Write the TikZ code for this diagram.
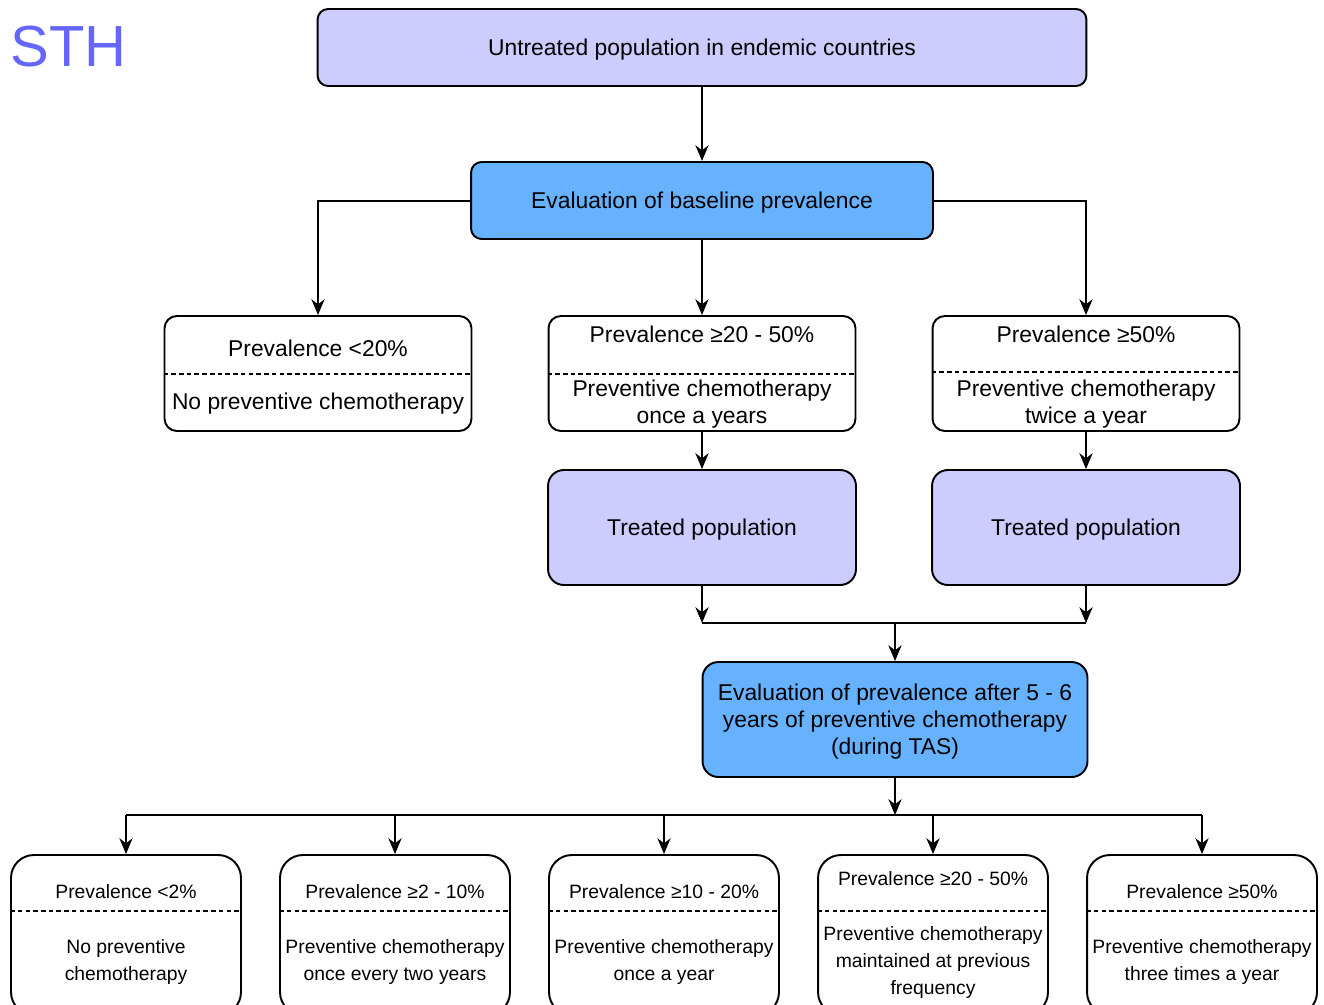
\documentclass[tikz,border=0pt]{standalone}
\usepackage{fontspec}
\setmainfont{Liberation Sans}
\usetikzlibrary{arrows.meta}
\definecolor{lilac}{HTML}{CCCCFF}
\definecolor{skyblue}{HTML}{66B2FF}
\definecolor{sthblue}{HTML}{6666FF}

\begin{document}
\begin{tikzpicture}[x=0.02cm,y=-0.02cm,
	box/.style={draw,line width=1.1pt,rounded corners=7pt,inner sep=0pt,align=center,text depth=0pt,font=\fontsize{13}{15.4}\selectfont},
	txt/.style={align=center,font=\fontsize{13}{15.4}\selectfont,inner sep=1pt},
	small/.style={align=center,font=\fontsize{11}{15.4}\selectfont,inner sep=1pt},
	arr/.style={line width=1.1pt,-{Stealth[length=9pt,width=7.5pt]}},
	wire/.style={line width=1.1pt},
	split/.style={dash pattern=on 2.6pt off 1.8pt,line width=0.95pt}]

	\clip (0,0) rectangle (1324,1004);

	\node[text=sthblue,font=\fontsize{33}{36}\selectfont,anchor=west,inner sep=0pt] (sth) at (10,47) {STH};

	\node[box,fill=lilac,rounded corners=6pt,minimum width=15.38cm,minimum height=1.54cm] (top) at (702,47.5) {Untreated population in endemic countries};
	\node[box,fill=skyblue,rounded corners=6pt,minimum width=9.24cm,minimum height=1.54cm] (eval) at (702,200.5) {Evaluation of baseline prevalence};

	\node[box,minimum width=6.14cm,minimum height=2.3cm] (low) at (318,373.5) {};
	\draw[split] (low.west |- 0,374) -- (low.east |- 0,374);
	\node[txt] (lowtop) at (318,348) {Prevalence <20\%};
	\node[txt] (lowbot) at (318,403.5) {No preventive chemotherapy};

	\node[box,minimum width=6.14cm,minimum height=2.3cm] (mid) at (702,373.5) {};
	\draw[split] (mid.west |- 0,374) -- (mid.east |- 0,374);
	\node[txt] (midtop) at (702,334) {Prevalence ≥20 - 50\%};
	\node[txt] (midbot) at (702,404) {Preventive chemotherapy\\once a years};

	\node[box,minimum width=6.14cm,minimum height=2.3cm] (high) at (1086,373.5) {};
	\draw[split] (high.west |- 0,372) -- (high.east |- 0,372);
	\node[txt] (hightop) at (1086,334) {Prevalence ≥50\%};
	\node[txt] (highbot) at (1086,404) {Preventive chemotherapy\\twice a year};

	\node[box,fill=lilac,rounded corners=9pt,minimum width=6.16cm,minimum height=2.3cm] (midtr) at (702,527.5) {Treated population};
	\node[box,fill=lilac,rounded corners=9pt,minimum width=6.16cm,minimum height=2.3cm] (hightr) at (1086,527.5) {Treated population};

	\node[box,fill=skyblue,rounded corners=9pt,minimum width=7.7cm,minimum height=2.3cm] (tas) at (895,719.5) {Evaluation of prevalence after 5 - 6\\years of preventive chemotherapy\\(during TAS)};

	\node[box,rounded corners=13pt,minimum width=4.6cm,minimum height=3.2cm] (r1) at (126,935) {};
	\draw[split] (r1.west |- 0,911) -- (r1.east |- 0,911);
	\node[small] (r1top) at (126,892) {Prevalence <2\%};
	\node[small] (r1bot) at (126,962) {No preventive\\chemotherapy};

	\node[box,rounded corners=13pt,minimum width=4.6cm,minimum height=3.2cm] (r2) at (395,935) {};
	\draw[split] (r2.west |- 0,911) -- (r2.east |- 0,911);
	\node[small] (r2top) at (395,892) {Prevalence ≥2 - 10\%};
	\node[small] (r2bot) at (395,962) {Preventive chemotherapy\\once every two years};

	\node[box,rounded corners=13pt,minimum width=4.6cm,minimum height=3.2cm] (r3) at (664,935) {};
	\draw[split] (r3.west |- 0,911) -- (r3.east |- 0,911);
	\node[small] (r3top) at (664,892) {Prevalence ≥10 - 20\%};
	\node[small] (r3bot) at (664,962) {Preventive chemotherapy\\once a year};

	\node[box,rounded corners=13pt,minimum width=4.6cm,minimum height=3.2cm] (r4) at (933,935) {};
	\draw[split] (r4.west |- 0,911) -- (r4.east |- 0,911);
	\node[small] (r4top) at (933,879) {Prevalence ≥20 - 50\%};
	\node[small] (r4bot) at (933,962.5) {Preventive chemotherapy\\maintained at previous\\frequency};

	\node[box,rounded corners=13pt,minimum width=4.6cm,minimum height=3.2cm] (r5) at (1202,935) {};
	\draw[split] (r5.west |- 0,911) -- (r5.east |- 0,911);
	\node[small] (r5top) at (1202,892) {Prevalence ≥50\%};
	\node[small] (r5bot) at (1202,962) {Preventive chemotherapy\\three times a year};

	\draw[arr] (top) -- (eval);
	\draw[arr] (eval.west |- 0,201) -| (low.north);
	\draw[arr] (eval) -- (mid);
	\draw[arr] (eval.east |- 0,201) -| (high.north);
	\draw[arr] (mid) -- (midtr);
	\draw[arr] (high) -- (hightr);

	\coordinate (join) at (895,623);
	\draw[arr] (midtr.south) -- (midtr.south |- join);
	\draw[arr] (hightr.south) -- (hightr.south |- join);
	\draw[wire] (midtr.south |- join) -- (hightr.south |- join);
	\draw[arr] (join) -- (tas.north);

	\coordinate (bus) at (895,815);
	\draw[arr] (tas.south) -- (bus);
	\draw[wire] (bus -| r1.north) -- (bus -| r5.north);
	\draw[arr] (bus -| r1.north) -- (r1.north);
	\draw[arr] (bus -| r2.north) -- (r2.north);
	\draw[arr] (bus -| r3.north) -- (r3.north);
	\draw[arr] (bus -| r4.north) -- (r4.north);
	\draw[arr] (bus -| r5.north) -- (r5.north);
\end{tikzpicture}
\end{document}
